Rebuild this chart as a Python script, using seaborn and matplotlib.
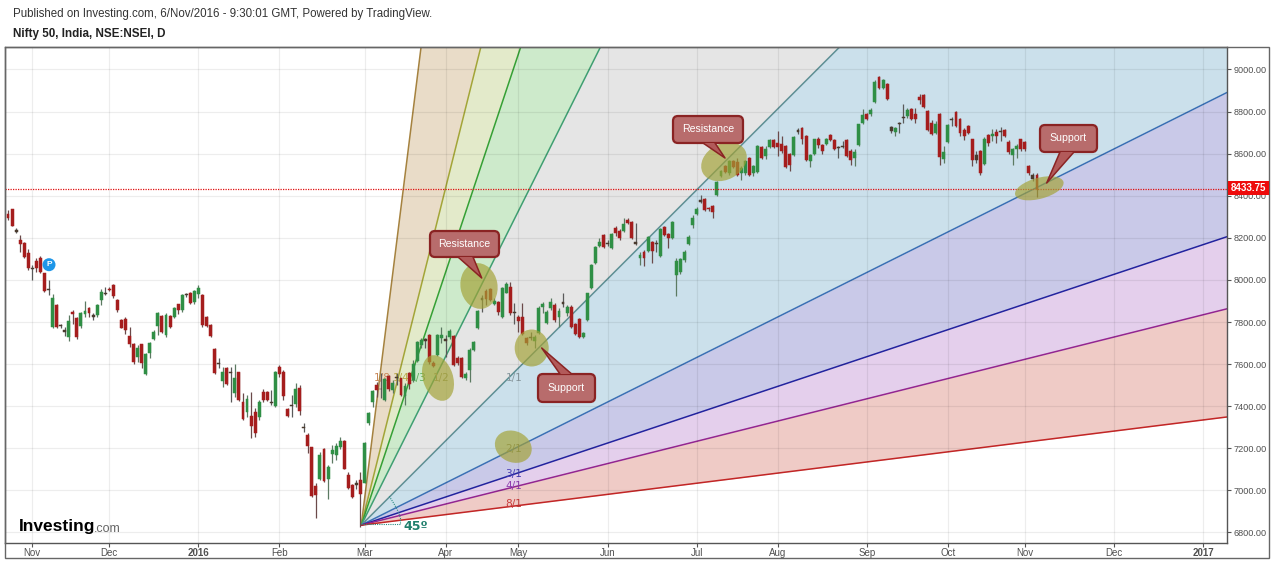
import numpy as np
import pandas as pd
import seaborn as sns
import matplotlib
matplotlib.use("Agg")
import matplotlib.pyplot as plt
from matplotlib.patches import Ellipse, FancyBboxPatch, Polygon, Rectangle, Circle
from matplotlib.transforms import Affine2D

body_top = [
 8313,8335,8237,8189,8177,8126,8055,8090,8105,8031,
 7955,7912,7881,7785,7762,7806,7847,7820,7841,7852,
 7869,7833,7881,7942,7936,7958,7977,7904,7812,7816,
 7735,7695,7679,7698,7648,7700,7751,7842,7830,7835,
 7828,7865,7884,7928,7934,7939,7947,7960,7928,7825,
 7787,7670,7606,7562,7584,7562,7532,7561,7420,7432,
 7353,7374,7421,7467,7466,7421,7562,7587,7564,7389,
 7408,7484,7486,7302,7263,7204,7022,7168,7199,7109,
 7191,7210,7236,7236,7073,7028,7036,7049,7223,7366,
 7473,7500,7484,7527,7543,7511,7540,7532,7497,7556,
 7603,7706,7715,7718,7738,7607,7738,7738,7718,7759,
 7734,7628,7628,7553,7667,7707,7853,7916,7949,7955,
 7902,7894,7960,7981,7965,7849,7822,7822,7723,7731,
 7731,7868,7886,7849,7897,7881,7854,7897,7873,7873,
 7789,7813,7746,7936,8071,8158,8182,8212,8177,8218,
 8249,8233,8266,8285,8275,8179,8119,8134,8206,8179,
 8177,8241,8253,8217,8274,8090,8098,8131,8206,8296,
 8336,8380,8383,8342,8351,8467,8517,8541,8565,8565,
 8562,8530,8565,8581,8541,8636,8631,8620,8663,8663,
 8652,8644,8636,8600,8679,8711,8720,8682,8593,8668,
 8668,8641,8668,8688,8663,8631,8636,8663,8612,8609,
 8739,8782,8790,8806,8942,8964,8948,8932,8726,8720,
 8744,8774,8806,8810,8787,8869,8878,8802,8747,8739,
 8790,8609,8734,8764,8799,8763,8714,8731,8668,8592,
 8612,8672,8688,8695,8703,8707,8712,8657,8620,8638,
 8668,8655,8541,8497,8501]
body_bot = [
 8292,8258,8229,8169,8110,8059,8050,8055,8036,7949,
 7950,7778,7778,7780,7754,7727,7836,7727,7782,7838,
 7844,7825,7833,7904,7931,7952,7925,7857,7774,7762,
 7695,7608,7635,7606,7553,7651,7719,7779,7754,7738,
 7778,7825,7857,7857,7930,7892,7893,7931,7785,7781,
 7733,7559,7600,7519,7505,7556,7461,7429,7340,7372,
 7307,7271,7347,7429,7429,7416,7402,7551,7448,7353,
 7401,7410,7378,7296,7212,6973,6979,7054,7044,7054,
 7172,7168,7204,7104,7013,6967,7027,6982,7036,7318,
 7421,7477,7480,7429,7484,7477,7535,7453,7450,7505,
 7524,7614,7691,7712,7609,7593,7643,7726,7712,7727,
 7596,7604,7540,7533,7572,7667,7773,7905,7908,7905,
 7886,7849,7826,7940,7841,7841,7807,7743,7699,7726,
 7712,7750,7870,7797,7865,7810,7826,7886,7841,7778,
 7743,7727,7727,7810,7963,8079,8161,8158,8171,8153,
 8222,8198,8233,8272,8198,8169,8103,8103,8138,8138,
 8172,8114,8214,8198,8198,8024,8039,8095,8171,8261,
 8312,8372,8332,8336,8325,8406,8494,8513,8506,8536,
 8501,8506,8506,8501,8509,8513,8581,8589,8631,8631,
 8631,8615,8536,8546,8593,8704,8668,8568,8565,8600,
 8639,8615,8647,8663,8623,8625,8631,8589,8568,8581,
 8641,8747,8763,8787,8847,8910,8910,8858,8707,8704,
 8739,8768,8779,8763,8763,8853,8821,8712,8695,8699,
 8584,8573,8657,8758,8731,8699,8684,8699,8568,8570,
 8509,8552,8652,8684,8684,8701,8684,8609,8596,8620,
 8620,8620,8509,8478,8434]
highs = [
 8332,8338,8245,8213,8181,8145,8071,8102,8115,8035,
 7999,7933,7885,7790,7778,7833,7857,7825,7849,7901,
 7873,7841,7885,7958,7968,7968,7981,7908,7816,7825,
 7778,7700,7690,7698,7652,7706,7762,7849,7834,7841,
 7832,7870,7888,7935,7939,7943,7950,7976,7932,7830,
 7792,7675,7627,7587,7588,7587,7603,7565,7461,7453,
 7469,7390,7429,7481,7470,7477,7568,7595,7572,7393,
 7453,7508,7500,7318,7271,7208,7033,7184,7203,7120,
 7215,7223,7255,7240,7089,7032,7049,7089,7231,7374,
 7477,7516,7556,7535,7550,7524,7559,7536,7508,7564,
 7619,7712,7723,7723,7742,7615,7742,7778,7738,7765,
 7738,7640,7632,7564,7675,7712,7858,7929,7958,7960,
 7913,7900,7965,7992,7990,7889,7833,7889,7730,7754,
 7739,7874,7897,7855,7913,7890,7865,7936,7880,7880,
 7795,7820,7752,7940,8076,8163,8198,8216,8190,8222,
 8255,8240,8293,8295,8280,8269,8135,8142,8210,8185,
 8190,8246,8258,8222,8278,8103,8105,8142,8214,8309,
 8348,8404,8390,8348,8356,8472,8522,8548,8570,8570,
 8580,8540,8570,8585,8548,8640,8636,8636,8668,8668,
 8707,8684,8640,8605,8684,8723,8725,8687,8600,8672,
 8679,8648,8675,8692,8668,8636,8660,8668,8620,8620,
 8743,8810,8795,8815,8948,8968,8955,8936,8733,8725,
 8750,8837,8815,8815,8818,8885,8882,8806,8760,8755,
 8795,8636,8740,8774,8805,8771,8720,8737,8672,8612,
 8618,8678,8695,8715,8715,8726,8717,8663,8626,8645,
 8672,8660,8547,8509,8506]
lows = [
 8284,8255,8221,8134,8102,8047,8000,8039,8031,7945,
 7928,7774,7770,7770,7733,7711,7793,7720,7770,7822,
 7825,7812,7825,7881,7928,7947,7912,7850,7770,7743,
 7682,7603,7611,7580,7548,7627,7714,7738,7750,7730,
 7774,7820,7838,7850,7920,7888,7888,7912,7778,7776,
 7728,7553,7580,7492,7500,7421,7445,7425,7334,7350,
 7247,7252,7334,7421,7425,7405,7395,7540,7429,7348,
 7350,7397,7358,7279,7176,6968,6867,7049,7040,6957,
 7128,7144,7199,7100,7009,6962,7009,6827,7033,7310,
 7397,7445,7437,7425,7470,7461,7500,7448,7405,7484,
 7516,7608,7675,7675,7600,7585,7638,7699,7636,7720,
 7590,7598,7535,7525,7517,7662,7768,7849,7880,7900,
 7881,7833,7820,7936,7835,7791,7754,7738,7690,7715,
 7675,7745,7841,7790,7857,7800,7778,7873,7830,7770,
 7738,7722,7722,7805,7958,8074,8158,8150,8160,8148,
 8210,8190,8229,8265,8194,8166,8071,8065,8134,8079,
 8134,8110,8210,8153,8194,7925,8030,8087,8166,8245,
 8309,8367,8327,8330,8293,8400,8488,8508,8500,8530,
 8495,8473,8500,8496,8494,8508,8576,8573,8626,8626,
 8589,8604,8530,8520,8588,8692,8644,8563,8536,8596,
 8625,8600,8642,8658,8618,8580,8625,8584,8546,8541,
 8636,8739,8758,8779,8842,8905,8905,8854,8700,8684,
 8700,8747,8770,8758,8747,8834,8816,8708,8690,8692,
 8545,8557,8650,8731,8725,8684,8663,8694,8541,8557,
 8501,8547,8636,8660,8652,8660,8679,8600,8546,8581,
 8615,8615,8500,8470,8394]
candle_kind = (
 "rrkrrrkrrr" "kgrkkgrrgg" "rkggkrrrrr" "rrgrggggrg" "rgrgkrggrr"
 "rrkgrkgrrg" "rrgrrkgrrr" "kgrkrrrgrg" "gggrrrkrgg" "grkgrgkrgr"
 "gggkrrggkg" "rrrggggkrr" "grggrkrrrk" "gggggrgkgr" "rrgggggrkg"
 "rrgrrkgrgr" "kgrrgggggg" "gkrrrggrgr" "rggrggrggr" "rrrrgkrrgg"
 "rrgrrkkrrg" "ggrggrgrkg" "kkgrrrrrrg" "rggkrrrrrk" "rgrgrkrrgg" "rrrkr")

tick_bars = [6, 25, 47, 67, 88, 108, 126, 148, 170, 190, 212, 232, 251, 273, 295]
tick_names = ["Nov", "Dec", "2016", "Feb", "Mar", "Apr", "May", "Jun", "Jul", "Aug",
              "Sep", "Oct", "Nov", "Dec", "2017"]
price_ticks = [6800, 7000, 7200, 7400, 7600, 7800, 8000, 8200, 8400, 8600, 8800, 9000]
last_price = 8433.75

fan_names = ["1/8", "1/4", "1/3", "1/2", "1/1", "2/1", "3/1", "4/1", "8/1"]
fan_ratio = [1/8, 1/4, 1/3, 1/2, 1, 2, 3, 4, 8]
fan_origin_bar = 87.2
fan_origin_price = 6835
fan_unit = 19.24  # price per bar on the 1/1 line
fan_line_col = ["#a5823f", "#a3a538", "#35a035", "#3f9f72", "#5e8f94",
                "#3a6fb4", "#23239f", "#93258f", "#c22626"]
fan_fill_col = ["#e9dcc8", "#e3eaca", "#cdeacb", "#e5e5e5", "#cbe0eb",
                "#c9c9e8", "#e4cfec", "#efcbc6"]

W, H = 1275, 561
sns.set_theme(style="white")
plt.rcParams["font.family"] = ["Liberation Sans", "DejaVu Sans"]
fig = plt.figure(figsize=(W / 100, H / 100), dpi=100, facecolor="white")

PL, PR, PT, PB = 5, 1227, 47, 543
ax = fig.add_axes([PL / W, 1 - PB / H, (PR - PL) / W, (PB - PT) / H])
ax.set_facecolor("white")

bars = np.arange(len(body_top))
df = pd.DataFrame({"bar": bars, "top": body_top, "bot": body_bot, "high": highs,
                   "low": lows, "kind": list(candle_kind)})

x_max = 300.9
ends = [fan_origin_price + fan_unit * (x_max - fan_origin_bar) / r for r in fan_ratio]
xx = np.array([fan_origin_bar, x_max])
for i in range(8):
    y1 = [fan_origin_price, ends[i]]
    y2 = [fan_origin_price, ends[i + 1]]
    ax.fill_between(xx, y1, y2, color=fan_fill_col[i], lw=0, zorder=1)

fan_df = pd.DataFrame({
    "bar": np.tile(xx, len(fan_names)),
    "price": np.ravel([[fan_origin_price, e] for e in ends]),
    "fan": np.repeat(fan_names, 2)})
sns.lineplot(data=fan_df, x="bar", y="price", hue="fan", hue_order=fan_names,
             palette=dict(zip(fan_names, fan_line_col)), estimator=None, sort=False,
             legend=False, lw=1.1, ax=ax, zorder=2)

palette = {"r": "#a51d1d", "g": "#2f8f45", "k": "#4a3a2e"}
wick_col = {"r": "#6b4a4a", "g": "#5c7a62", "k": "#5a5a5a"}
ax.vlines(df["bar"], df["low"], df["high"], colors=df["kind"].map(wick_col), lw=0.9, zorder=3)
ax.bar(df["bar"], df["top"] - df["bot"], bottom=df["bot"], width=0.72,
       color=df["kind"].map(palette), edgecolor=df["kind"].map(palette), lw=0.35, zorder=3.5)

ax.axhline(last_price, color="#e01010", lw=0.9, ls=(0, (1, 1)), zorder=4)

ax.set_xlim(-0.74, x_max)
ax.set_ylim(6750.1, 9106.9)
ax.set_xlabel("")
ax.set_ylabel("")
ax.set_xticks(tick_bars)
ax.set_xticklabels(tick_names, fontsize=7, color="#505050")
nudge = {8: -4, 10: -6, 13: -2}
for i, (lab, nm) in enumerate(zip(ax.get_xticklabels(), tick_names)):
    if nm in ("2016", "2017"):
        lab.set_fontweight("bold")
    if i in nudge:
        lab.set_transform(lab.get_transform() + Affine2D().translate(nudge[i], 0))
ax.yaxis.tick_right()
ax.set_yticks(price_ticks)
ax.set_yticklabels([f"{p:.2f}" for p in price_ticks], fontsize=6.6, color="#505050")
ax.tick_params(axis="x", length=3, width=0.8, color="#555555", pad=0.5, bottom=True)
ax.tick_params(axis="y", length=3, width=0.8, color="#555555", pad=1.5, right=True)
ax.grid(True, color="black", alpha=0.07, lw=0.9)
ax.set_axisbelow(False)
for gl in ax.get_xgridlines() + ax.get_ygridlines():
    gl.set_zorder(1.5)
for s in ax.spines.values():
    s.set_visible(True)
    s.set_color("#555555")
    s.set_linewidth(1)

ov = fig.add_axes([0, 0, 1, 1], zorder=5)
ov.set_xlim(0, W)
ov.set_ylim(H, 0)
ov.axis("off")
ov.patch.set_alpha(0)

ov.add_patch(Rectangle((5, 47), 1264, 511, fill=False, ec="#666666", lw=1))
fig.text(13 / W, 1 - 14.5 / H, "Published on Investing.com, 6/Nov/2016 - 9:30:01 GMT, Powered by TradingView.",
         fontsize=8.3, color="#333333", va="center", ha="left")
fig.text(13 / W, 1 - 34 / H, "Nifty 50, India, NSE:NSEI, D", fontsize=8.4, fontweight="bold",
         color="#222222", va="center", ha="left")

# fan labels sit under the candles
fan_label_pos = [(382, 378), (401, 378), (418.5, 378), (441, 378), (514, 378),
                 (514, 449), (514, 474), (514, 486), (514, 504)]
fan_label_col = ["#c9895a", "#b9a94a", "#5aaf5a", "#9a9a6a", "#8a9aa0",
                 "#77806a", "#4a3fb5", "#8f3fb0", "#c83c3c"]
for nm, (px, py), c in zip(fan_names, fan_label_pos, fan_label_col):
    ax.text(px, py, nm, color=c, fontsize=7.6, ha="center", va="center", family="DejaVu Sans",
            transform=ov.transData, zorder=2.5)

# gann angle marker
ov.plot([361, 400, 400], [524, 524, 517], color="#2a8a80", lw=0.8, ls=(0, (1, 1)))
theta = np.linspace(0, 1, 12)
ov.plot(400 - 11 * theta ** 1.3, 517 - 21 * theta, color="#2a8a80", lw=0.8, ls=(0, (1, 1)))
ov.text(415.5, 527, "45º", color="#1f7f6c", fontsize=9, fontweight="bold", ha="center", va="center",
        family="DejaVu Sans")

# highlight ellipses
for cx, cy, w, h, ang in [(479, 286, 37, 46, -10), (531.7, 348, 34, 37, 0), (438, 378, 30, 47, -18),
                          (513.3, 446.7, 38, 31, 25), (724, 161.7, 48, 36, -28), (1039.3, 188.3, 50, 21, -15)]:
    ov.add_patch(Ellipse((cx, cy), w, h, angle=ang, fc="#a3a236", ec="none", alpha=0.68))

# callouts
box_fc, box_ec = "#b86c6c", "#8a2323"
callouts = [("Resistance", (430, 231, 69, 26), [(458, 257), (473, 257), (481.7, 278)]),
            ("Support", (538, 374, 57, 28), [(560, 374), (571.7, 374), (541.7, 348)]),
            ("Resistance", (673, 116, 70, 27), [(703, 143), (715, 143), (725, 158)]),
            ("Support", (1040, 125, 57, 27), [(1060, 152), (1074, 152), (1046.7, 183)])]
for label, (bx, by, bw, bh), tail in callouts:
    ov.add_patch(FancyBboxPatch((bx + 4, by + 4), bw - 8, bh - 8, boxstyle="round,pad=4,rounding_size=5",
                                fc=box_fc, ec=box_ec, lw=1.6))
    ov.add_patch(Polygon(tail, closed=True, fc="#b25a5a", ec="none"))
    ov.plot([tail[0][0], tail[2][0], tail[1][0]], [tail[0][1], tail[2][1], tail[1][1]], color=box_ec, lw=1.1)
    ov.text(bx + bw / 2, by + bh / 2 - 0.5, label, color="white", fontsize=7.6, ha="center", va="center")

# pivot flag
ov.add_patch(Circle((49, 264.7), 6.5, fc="#1e96e8", ec="none"))
ov.text(49, 264.9, "P", color="white", fontsize=6, fontweight="bold", ha="center", va="center")

# price tag
ov.add_patch(Rectangle((1228, 181), 41, 13.5, fc="#ee0b0b", ec="none"))
ov.text(1248.5, 188, f"{last_price:.2f}", color="white", fontsize=7, fontweight="bold", ha="center", va="center")

# logo
ov.text(19, 527, "Investing", color="black", fontsize=12.5, fontweight="bold", ha="left", va="center")
ov.text(93.5, 528.5, ".com", color="#666666", fontsize=9, ha="left", va="center")

fig.savefig("out.png", dpi=100, facecolor="white")
